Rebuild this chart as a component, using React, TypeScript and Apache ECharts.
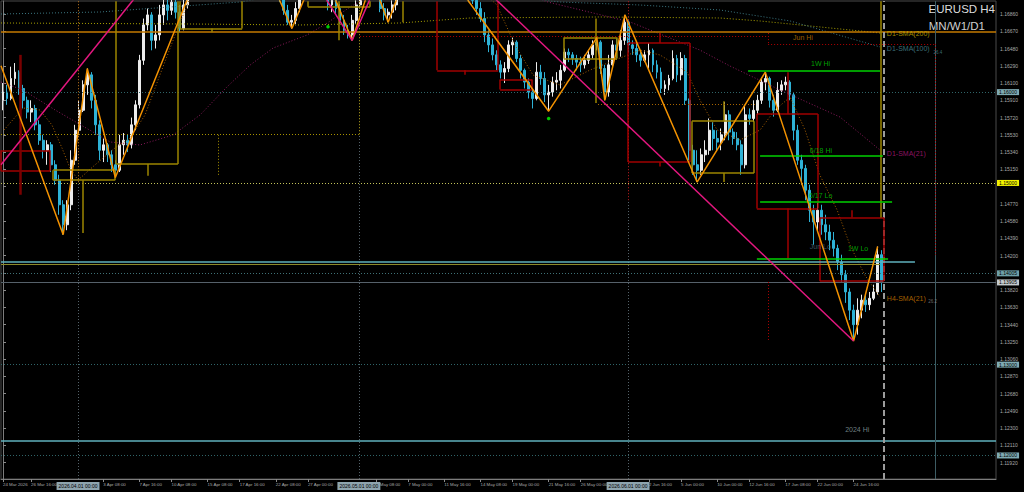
import React, { useEffect, useRef } from 'react';
import * as echarts from 'echarts';

// ---------- DATA ----------
// H4-ish candles: [open, close, low, high]
const CANDLES: number[][] = [
  [1.1591,1.1600,1.1580,1.1610],[1.1600,1.1593,1.1586,1.1608],[1.1593,1.1615,1.1591,1.1628],[1.1615,1.1622,1.1608,1.1632],
  [1.1622,1.1604,1.1597,1.1624],[1.1604,1.1591,1.1582,1.1608],[1.1591,1.1578,1.1571,1.1595],[1.1578,1.1582,1.1567,1.1591],
  [1.1582,1.1564,1.1558,1.1586],[1.1564,1.1547,1.1542,1.1569],[1.1547,1.1536,1.1527,1.1553],[1.1536,1.1542,1.1520,1.1547],
  [1.1542,1.1520,1.1512,1.1545],[1.1520,1.1503,1.1498,1.1525],[1.1503,1.1476,1.1465,1.1509],[1.1476,1.1454,1.1443,1.1481],
  [1.1454,1.1476,1.1448,1.1481],[1.1476,1.1525,1.1470,1.1536],[1.1525,1.1558,1.1520,1.1564],[1.1558,1.1580,1.1553,1.1591],
  [1.1580,1.1608,1.1578,1.1613],[1.1608,1.1619,1.1597,1.1626],[1.1619,1.1591,1.1582,1.1622],[1.1591,1.1564,1.1553,1.1597],
  [1.1564,1.1536,1.1525,1.1569],[1.1536,1.1542,1.1523,1.1549],[1.1542,1.1531,1.1523,1.1544],[1.1531,1.1520,1.1512,1.1536],
  [1.1520,1.1514,1.1506,1.1525],[1.1514,1.1542,1.1512,1.1553],[1.1542,1.1547,1.1531,1.1555],[1.1547,1.1542,1.1534,1.1553],
  [1.1542,1.1564,1.1538,1.1572],[1.1564,1.1586,1.1558,1.1591],[1.1586,1.1635,1.1582,1.1641],[1.1635,1.1674,1.1630,1.1681],
  [1.1674,1.1685,1.1668,1.1692],[1.1685,1.1657,1.1646,1.1688],[1.1657,1.1663,1.1648,1.1674],[1.1663,1.1685,1.1657,1.1696],
  [1.1685,1.1696,1.1674,1.1712],[1.1696,1.1690,1.1679,1.1712],[1.1690,1.1699,1.1685,1.1718],[1.1699,1.1688,1.1681,1.1712],
  [1.1688,1.1670,1.1666,1.1696],[1.1670,1.1696,1.1668,1.1707],[1.1696,1.1718,1.1692,1.1729],[1.1718,1.1734,1.1712,1.1743],
  [1.1734,1.1745,1.1729,1.1754],[1.1745,1.1762,1.1740,1.1767],[1.1762,1.1756,1.1751,1.1773],[1.1756,1.1776,1.1751,1.1784],
  [1.1776,1.1789,1.1769,1.1798],[1.1789,1.1784,1.1778,1.1800],[1.1784,1.1802,1.1778,1.1809],[1.1802,1.1811,1.1795,1.1818],
  [1.1811,1.1806,1.1798,1.1820],[1.1806,1.1817,1.1800,1.1823],[1.1817,1.1800,1.1795,1.1820],[1.1800,1.1789,1.1780,1.1806],
  [1.1789,1.1795,1.1784,1.1802],[1.1795,1.1778,1.1769,1.1798],[1.1778,1.1765,1.1758,1.1784],[1.1765,1.1769,1.1756,1.1776],
  [1.1769,1.1754,1.1745,1.1773],[1.1754,1.1740,1.1732,1.1758],[1.1740,1.1745,1.1734,1.1751],[1.1745,1.1729,1.1721,1.1747],
  [1.1729,1.1718,1.1710,1.1734],[1.1718,1.1707,1.1699,1.1723],[1.1707,1.1690,1.1685,1.1710],[1.1690,1.1677,1.1674,1.1696],
  [1.1677,1.1679,1.1670,1.1685],[1.1679,1.1692,1.1675,1.1699],[1.1692,1.1707,1.1688,1.1712],[1.1707,1.1718,1.1701,1.1723],
  [1.1718,1.1729,1.1712,1.1736],[1.1729,1.1734,1.1721,1.1740],[1.1734,1.1740,1.1729,1.1744],[1.1740,1.1734,1.1725,1.1744],
  [1.1734,1.1712,1.1707,1.1736],[1.1712,1.1696,1.1690,1.1718],[1.1696,1.1701,1.1688,1.1707],[1.1701,1.1692,1.1686,1.1705],
  [1.1692,1.1679,1.1675,1.1697],[1.1679,1.1668,1.1663,1.1685],[1.1668,1.1663,1.1659,1.1674],[1.1663,1.1679,1.1657,1.1685],
  [1.1679,1.1696,1.1675,1.1701],[1.1696,1.1712,1.1692,1.1718],[1.1712,1.1723,1.1707,1.1729],[1.1723,1.1718,1.1712,1.1729],
  [1.1718,1.1721,1.1712,1.1724],[1.1721,1.1707,1.1701,1.1723],[1.1707,1.1692,1.1688,1.1710],[1.1692,1.1685,1.1679,1.1698],
  [1.1685,1.1688,1.1677,1.1692],[1.1688,1.1696,1.1681,1.1701],[1.1696,1.1707,1.1690,1.1712],[1.1707,1.1723,1.1701,1.1729],
  [1.1723,1.1740,1.1718,1.1745],[1.1740,1.1751,1.1734,1.1756],[1.1751,1.1762,1.1745,1.1767],[1.1762,1.1767,1.1756,1.1773],
  [1.1767,1.1765,1.1756,1.1773],[1.1765,1.1756,1.1751,1.1769],[1.1756,1.1751,1.1745,1.1762],[1.1751,1.1743,1.1736,1.1756],
  [1.1743,1.1745,1.1734,1.1751],[1.1745,1.1734,1.1729,1.1749],[1.1734,1.1729,1.1721,1.1740],[1.1729,1.1723,1.1716,1.1734],
  [1.1723,1.1725,1.1714,1.1732],[1.1725,1.1718,1.1712,1.1730],[1.1718,1.1712,1.1707,1.1723],[1.1712,1.1710,1.1704,1.1718],
  [1.1710,1.1703,1.1699,1.1714],[1.1703,1.1701,1.1697,1.1708],[1.1701,1.1692,1.1685,1.1704],[1.1692,1.1681,1.1677,1.1699],
  [1.1681,1.1663,1.1655,1.1688],[1.1663,1.1652,1.1644,1.1668],[1.1652,1.1641,1.1635,1.1659],[1.1641,1.1630,1.1624,1.1646],
  [1.1630,1.1622,1.1615,1.1635],[1.1622,1.1626,1.1610,1.1633],[1.1626,1.1652,1.1622,1.1657],[1.1652,1.1655,1.1641,1.1660],
  [1.1655,1.1637,1.1633,1.1657],[1.1637,1.1624,1.1615,1.1641],[1.1624,1.1611,1.1604,1.1626],[1.1611,1.1600,1.1593,1.1615],
  [1.1600,1.1593,1.1582,1.1604],[1.1593,1.1622,1.1591,1.1633],[1.1622,1.1615,1.1608,1.1630],[1.1615,1.1597,1.1589,1.1622],
  [1.1597,1.1600,1.1579,1.1608],[1.1600,1.1611,1.1595,1.1617],[1.1611,1.1613,1.1602,1.1622],[1.1613,1.1624,1.1604,1.1630],
  [1.1624,1.1644,1.1622,1.1648],[1.1644,1.1641,1.1633,1.1648],[1.1641,1.1637,1.1630,1.1644],[1.1637,1.1633,1.1624,1.1641],
  [1.1633,1.1630,1.1622,1.1639],[1.1630,1.1635,1.1626,1.1641],[1.1635,1.1641,1.1631,1.1646],[1.1641,1.1652,1.1637,1.1657],
  [1.1652,1.1655,1.1646,1.1660],[1.1655,1.1626,1.1620,1.1657],[1.1626,1.1600,1.1591,1.1630],[1.1600,1.1630,1.1595,1.1641],
  [1.1630,1.1652,1.1626,1.1657],[1.1652,1.1646,1.1637,1.1659],[1.1646,1.1657,1.1639,1.1668],[1.1657,1.1677,1.1652,1.1685],
  [1.1677,1.1652,1.1644,1.1679],[1.1652,1.1648,1.1641,1.1657],[1.1648,1.1641,1.1633,1.1655],[1.1641,1.1635,1.1628,1.1646],
  [1.1635,1.1641,1.1633,1.1646],[1.1641,1.1646,1.1626,1.1654],[1.1646,1.1630,1.1622,1.1648],[1.1630,1.1622,1.1615,1.1635],
  [1.1622,1.1604,1.1599,1.1627],[1.1604,1.1608,1.1597,1.1613],[1.1608,1.1615,1.1602,1.1619],[1.1615,1.1637,1.1613,1.1646],
  [1.1637,1.1619,1.1611,1.1641],[1.1619,1.1637,1.1613,1.1644],[1.1637,1.1591,1.1586,1.1641],[1.1591,1.1536,1.1525,1.1593],
  [1.1536,1.1520,1.1509,1.1542],[1.1520,1.1514,1.1501,1.1536],[1.1514,1.1531,1.1509,1.1538],[1.1531,1.1536,1.1523,1.1547],
  [1.1536,1.1558,1.1531,1.1571],[1.1558,1.1549,1.1536,1.1567],[1.1549,1.1545,1.1536,1.1558],[1.1545,1.1553,1.1536,1.1560],
  [1.1553,1.1575,1.1547,1.1589],[1.1575,1.1556,1.1547,1.1580],[1.1556,1.1549,1.1542,1.1560],[1.1549,1.1542,1.1536,1.1556],
  [1.1542,1.1520,1.1509,1.1547],[1.1520,1.1575,1.1516,1.1586],[1.1575,1.1571,1.1564,1.1582],[1.1571,1.1580,1.1567,1.1591],
  [1.1580,1.1591,1.1575,1.1597],[1.1591,1.1611,1.1587,1.1615],[1.1611,1.1615,1.1602,1.1622],[1.1615,1.1591,1.1583,1.1617],
  [1.1591,1.1580,1.1573,1.1597],[1.1580,1.1602,1.1578,1.1611],[1.1602,1.1608,1.1597,1.1613],[1.1608,1.1611,1.1602,1.1617],
  [1.1611,1.1597,1.1591,1.1613],[1.1597,1.1558,1.1547,1.1600],[1.1558,1.1525,1.1520,1.1564],[1.1525,1.1516,1.1498,1.1531],
  [1.1516,1.1492,1.1481,1.1520],[1.1492,1.1470,1.1457,1.1498],[1.1470,1.1457,1.1432,1.1476],[1.1457,1.1470,1.1448,1.1478],
  [1.1470,1.1454,1.1443,1.1476],[1.1454,1.1446,1.1437,1.1465],[1.1446,1.1437,1.1426,1.1454],[1.1437,1.1428,1.1419,1.1446],
  [1.1428,1.1413,1.1404,1.1432],[1.1413,1.1399,1.1391,1.1421],[1.1399,1.1380,1.1368,1.1404],[1.1380,1.1360,1.1349,1.1384],
  [1.1360,1.1344,1.1326,1.1366],[1.1344,1.1360,1.1333,1.1373],[1.1360,1.1371,1.1351,1.1377],[1.1371,1.1366,1.1358,1.1378],
  [1.1366,1.1373,1.1360,1.1380],[1.1373,1.1380,1.1371,1.1388],[1.1380,1.1421,1.1377,1.1430],[1.1421,1.13905,1.1380,1.1426],
];

const SLOT_COUNT = 248; // bar slots incl. right shift space

const TIME_LABELS: [number, string][] = [
  [0, '24 Mar 2026'], [7, '26 Mar 16:00'], [25, '3 Apr 08:00'], [34, '7 Apr 16:00'], [42, '10 Apr 08:00'],
  [51, '15 Apr 08:00'], [59, '17 Apr 16:00'], [68, '22 Apr 08:00'], [76, '27 Apr 00:00'], [93, '5 May 08:00'],
  [101, '7 May 00:00'], [110, '11 May 16:00'], [119, '14 May 08:00'], [127, '19 May 00:00'], [136, '21 May 16:00'],
  [144, '26 May 00:00'], [161, '2 Jun 16:00'], [169, '5 Jun 00:00'], [178, '10 Jun 00:00'], [186, '12 Jun 16:00'],
  [195, '17 Jun 08:00'], [203, '22 Jun 00:00'], [212, '24 Jun 16:00'],
];

const PRICE_TICKS = [
  1.1192, 1.1211, 1.1230, 1.1249, 1.1268, 1.1287, 1.1306, 1.1325, 1.1344, 1.1363, 1.1382, 1.1401, 1.1420, 1.1439,
  1.1458, 1.1477, 1.1496, 1.1515, 1.1534, 1.1553, 1.1572, 1.1591, 1.1610, 1.1629, 1.1648, 1.1667, 1.1686,
];
// tick labels hidden in the reference behind the highlighted price boxes
const COVERED_TICKS = [1.1401, 1.1496];

const PERIOD_SEPARATORS: [number, string][] = [
  [18.7, '2026.04.01 00:00'], [88.7, '2026.05.01 00:00'], [155.8, '2026.06.01 00:00'],
];

const ZIGZAG: number[][] = [
  [-0.5, 1.1629], [15, 1.1443], [21, 1.1626], [28, 1.1506], [57, 1.1823], [72, 1.1670], [79, 1.1744],
  [87, 1.1657], [92, 1.1724], [96, 1.1677], [104, 1.1773], [136, 1.1579], [148, 1.1660], [150, 1.1591],
  [155, 1.1685], [173, 1.1501], [190, 1.1622], [212, 1.1326], [218, 1.1430],
];
const TREND_UP: number[][] = [[-0.5, 1.1520], [40, 1.1743]];
const TREND_DOWN: number[][] = [[120, 1.1714], [212, 1.1326]];
const TREND_V: number[][] = [[80, 1.1706], [87, 1.1657], [92, 1.1708]];

const D1_SMA200: number[][] = [
  [-0.5, 1.16761], [46.6, 1.16750], [74.0, 1.16739], [99.0, 1.16761], [116.4, 1.16816], [148.8, 1.16827],
  [178.7, 1.16816], [188.7, 1.16783], [218.6, 1.16651],
];
const D1_SMA100: number[][] = [
  [-0.5, 1.16860], [24.2, 1.16882], [59.1, 1.16992], [74.0, 1.17102], [99.0, 1.17124], [123.9, 1.17069],
  [138.8, 1.16992], [158.8, 1.16959], [178.7, 1.16904], [196.2, 1.16783], [218.6, 1.16497],
];
const D1_SMA21: number[][] = [
  [-0.5, 1.16111], [5.0, 1.16023], [13.0, 1.15803], [26.7, 1.15451], [34.1, 1.15418], [42.4, 1.15528],
  [49.1, 1.15748], [55.8, 1.16056], [61.6, 1.16298], [67.3, 1.16485], [75.8, 1.16629], [80.8, 1.16761],
  [86.5, 1.16937], [94.0, 1.17124], [111.4, 1.17234], [128.9, 1.17102], [135.8, 1.16992], [156.3, 1.16772],
  [173.7, 1.16463], [181.2, 1.16287], [193.7, 1.16023], [208.6, 1.15726], [218.6, 1.15362],
];
const H4_SMA21: number[][] = [
  [0.25, 1.15583], [5.0, 1.15825], [9.2, 1.15803], [12.2, 1.15638], [14.7, 1.15385], [16.7, 1.15164],
  [18.7, 1.15032], [22.9, 1.15198], [27.9, 1.15385], [31.7, 1.15495], [35.4, 1.15748], [39.1, 1.16188],
  [42.9, 1.16629], [45.4, 1.16904], [47.9, 1.17179], [56.6, 1.17785], [74.0, 1.17565], [89.0, 1.17344],
  [103.9, 1.17454], [116.4, 1.17234], [123.1, 1.16959], [127.6, 1.16519], [132.1, 1.16188], [138.8, 1.16078],
  [146.3, 1.16243], [151.3, 1.16331], [158.8, 1.16463], [163.8, 1.16408], [170.5, 1.16221], [173.7, 1.15913],
  [178.0, 1.15583], [183.7, 1.15473], [188.7, 1.15583], [192.4, 1.15803], [196.2, 1.15946], [199.9, 1.15583],
  [203.6, 1.15087], [207.9, 1.14702], [211.1, 1.14316], [214.8, 1.13986], [218.6, 1.13744],
];
const FRACTALS: number[][] = [[81, 1.1672], [136, 1.1571]];

// higher-timeframe boxes: [x1, top, x2, bottom]
const TOP = 1.1700;
const RED_BOXES: number[][] = [
  [-0.5, 1.1536, 11.7, 1.1513], [108.2, TOP, 123.4, 1.1624], [123.9, 1.1614, 131.9, 1.1603],
  [155.8, 1.1654, 171.2, 1.1523], [187.9, 1.1576, 203.1, 1.1472], [203.6, 1.1462, 219.6, 1.1392],
];
const RED_WICKS: number[][] = [
  [115.2, 1.1624, 1.1619], [163.8, 1.1665, 1.1654], [163.8, 1.1523, 1.1518],
  [195.7, 1.1622, 1.1576], [195.7, 1.1472, 1.1417], [211.6, 1.1470, 1.1462],
];
const RED_MAIN_WICK: number[] = [4.2, 1.1641, 1.1487];
const OLIVE_BOXES: number[][] = [
  [12.5, 1.1514, 27.9, 1.1503], [28.2, TOP, 43.6, 1.1521], [44.1, TOP, 59.6, 1.1670],
  [76.0, TOP, 91.5, 1.1694], [139.8, 1.1660, 153.0, 1.1637], [171.7, 1.1568, 187.2, 1.1511],
];
const OLIVE_WICKS: number[][] = [
  [19.9, 1.1503, 1.1445], [36.1, 1.1521, 1.1508], [52.1, 1.1670, 1.1666], [83.7, TOP, 1.1657],
  [99.7, TOP, 1.1677], [147.8, 1.1681, 1.1588], [179.7, 1.1590, 1.1568], [179.7, 1.1511, 1.1501],
  [218.8, TOP, 1.1462],
];

// levels
const JUN_HI = 1.1666;
const HI_2024 = 1.12166;
const CYAN_LEVEL = 1.14133;
const OLIVE_LEVEL = 1.14104;
const CURRENT_PRICE = 1.13905;
const SR_LEVEL = 1.14005;
const ROUND_LEVELS = [1.16, 1.13, 1.12];
const YELLOW_LEVEL = 1.15;
// green key levels: [x1, x2, price]
const KEY_LEVELS: number[][] = [
  [185.7, 218.6, 1.16232], [188.7, 219.3, 1.15296], [188.7, 221.6, 1.14790], [187.9, 220.6, 1.14170],
];

const ANNOTATIONS: { t: string; x: number; y: number; c: string; s?: number }[] = [
  { t: 'D1-SMA(200)', x: 220.3, y: 1.16640, c: '#c9b000' },
  { t: 'D1-SMA(100)', x: 220.3, y: 1.16484, c: '#4b8a94' },
  { t: '26.4', x: 231.9, y: 1.16440, c: '#4b8a94', s: 4.5 },
  { t: 'D1-SMA(21)', x: 220.3, y: 1.15329, c: '#b3187c' },
  { t: 'H4-SMA(21)', x: 220.3, y: 1.13733, c: '#d17a00' },
  { t: '26.2', x: 230.6, y: 1.13690, c: '#8a8a8a', s: 4.5 },
  { t: 'Jun Hi', x: 196.9, y: 1.16601, c: '#c47a00' },
  { t: '1W Hi', x: 201.4, y: 1.16320, c: '#00c800' },
  { t: '6/18 Hi', x: 201.1, y: 1.15362, c: '#00c800' },
  { t: '6/17 Lo', x: 200.9, y: 1.14867, c: '#00c800' },
  { t: '1W Lo', x: 210.6, y: 1.14273, c: '#00c800' },
  { t: 'Jun Lo', x: 201.1, y: 1.14295, c: '#4d6f80' },
  { t: '2024 Hi', x: 209.9, y: 1.12291, c: '#8fa0a6' },
];

// ---------- STYLE ----------
const FONT = 'Liberation Sans, Arial, sans-serif';
const BULL = '#ececec';
const BEAR = '#2eb2d6';
const RED = '#a00000';
const OLIVE = '#9c8600';
const GREEN = '#00d000';
const DOT: number[] = [1, 2];

function seg(x1: number, y1: number, x2: number, y2: number, color: string, width = 1, type: any = 'solid') {
  return [{ coord: [x1, y1], lineStyle: { color, width, type } }, { coord: [x2, y2] }];
}

function boxSegs(b: number[], color: string, width = 1.5) {
  const [x1, top, x2, bottom] = b;
  const out = [seg(x1, top, x1, bottom, color, width), seg(x2, top, x2, bottom, color, width), seg(x1, bottom, x2, bottom, color, width)];
  if (top < TOP) out.push(seg(x1, top, x2, top, color, width));
  return out;
}

function levelLabel(text: string, bg: string) {
  return {
    show: true, position: 'end', formatter: text, backgroundColor: bg, color: '#000',
    fontSize: 5, lineHeight: 6, fontFamily: FONT, padding: [0, 2, 0, 2], distance: 1,
  };
}

function lineSeries(data: number[][], color: string, width: number, type: any, z: number) {
  return {
    type: 'line', xAxisIndex: 1, yAxisIndex: 0, data, symbol: 'none', showSymbol: false, silent: true,
    lineStyle: { color, width, type }, z, animation: false,
  };
}

function buildOption(): any {
  const labelMap = new Map<number, string>(TIME_LABELS);
  const slots = Array.from({ length: SLOT_COUNT }, (_, i) => String(i));
  const priceLabels = PRICE_TICKS.filter((p) => !COVERED_TICKS.includes(p));

  const boxLines: any[] = [];
  RED_BOXES.forEach((b) => boxLines.push(...boxSegs(b, RED)));
  OLIVE_BOXES.forEach((b) => boxLines.push(...boxSegs(b, OLIVE)));
  RED_WICKS.forEach(([x, a, b]) => boxLines.push(seg(x, a, x, b, RED, 1.5)));
  OLIVE_WICKS.forEach(([x, a, b]) => boxLines.push(seg(x, a, x, b, OLIVE, 1.5)));
  boxLines.push(seg(RED_MAIN_WICK[0], RED_MAIN_WICK[1], RED_MAIN_WICK[0], RED_MAIN_WICK[2], '#7a0000', 2.5));
  // dotted partial structures
  boxLines.push(seg(-0.5, 1.1554, 88.7, 1.1554, '#a89200', 1, DOT));
  boxLines.push(seg(53.6, 1.1553, 53.6, 1.1507, '#a89200', 1, DOT));
  boxLines.push(seg(148.3, 1.1587, 187.9, 1.1587, '#a86400', 1, DOT));
  boxLines.push(seg(89, 1.1661, 190.7, 1.1661, '#b00000', 1, DOT));
  boxLines.push(seg(190.7, 1.1665, 190.7, 1.1653, '#b00000', 1, DOT));
  boxLines.push(seg(190.7, 1.1653, 232.3, 1.1653, '#b00000', 1, DOT));
  boxLines.push(seg(190.7, 1.1391, 190.7, 1.1327, '#b00000', 1, DOT));
  boxLines.push(seg(232.3, 1.1653, 232.3, 1.1421, '#b00000', 1, DOT));
  boxLines.push(seg(18.7, TOP, 18.7, 1.1500, '#b06000', 1, DOT));
  boxLines.push(seg(88.7, TOP, 88.7, 1.1553, '#a89200', 1, DOT));
  boxLines.push(seg(155.8, TOP, 155.8, 1.1481, '#b00000', 1, DOT));
  // partial solid levels
  boxLines.push(seg(-0.5, CYAN_LEVEL, 227.3, CYAN_LEVEL, '#5fb0bd', 1.5));
  boxLines.push(seg(-0.5, OLIVE_LEVEL, 218.6, OLIVE_LEVEL, '#8c8a2a', 1));

  const greenLines = KEY_LEVELS.map(([x1, x2, p]) => seg(x1, p, x2, p, GREEN, 1.5));

  const fullLevels: any[] = [
    { yAxis: JUN_HI, lineStyle: { color: '#c47a00', width: 1.5, type: 'solid' }, label: { show: false } },
    { yAxis: YELLOW_LEVEL, lineStyle: { color: '#c4c45a', width: 1, type: DOT }, label: levelLabel('1.15000', '#f2f200') },
    { yAxis: SR_LEVEL, lineStyle: { color: '#3f7176', width: 1, type: DOT }, label: levelLabel('1.14005', '#6d9fa8') },
    { yAxis: CURRENT_PRICE, lineStyle: { color: '#56616a', width: 1, type: 'solid' }, label: levelLabel('1.13905', '#c4cacd') },
    { yAxis: HI_2024, lineStyle: { color: '#5fb0bd', width: 1.5, type: 'solid' }, label: { show: false } },
    ...ROUND_LEVELS.map((p) => ({
      yAxis: p, lineStyle: { color: '#2f6468', width: 1, type: DOT }, label: levelLabel(p.toFixed(5), '#7eaab3'),
    })),
    ...PERIOD_SEPARATORS.map(([x, t]) => ({
      xAxis: x, lineStyle: { color: '#54626a', width: 1, type: DOT },
      label: {
        show: true, position: 'start', formatter: t, backgroundColor: '#8ea4ae', color: '#000',
        fontSize: 5, lineHeight: 6, fontFamily: FONT, padding: [1, 2, 1, 2], distance: 3,
      },
    })),
    { xAxis: 219.6, lineStyle: { color: '#9c9c9c', width: 2, type: [6, 3] }, label: { show: false } },
    { xAxis: 232.3, lineStyle: { color: '#3d5c63', width: 1, type: 'solid' }, label: { show: false } },
  ];

  return {
    animation: false,
    backgroundColor: '#000000',
    textStyle: { fontFamily: FONT },
    grid: {
      left: 1, top: 1, right: 28, bottom: 13, show: true, borderColor: '#4a4a4a', borderWidth: 1,
      containLabel: false, outerBoundsMode: 'none',
    },
    xAxis: [
      {
        type: 'category', data: slots, boundaryGap: true,
        axisLine: { show: true, lineStyle: { color: '#7c7c7c' } },
        axisTick: {
          show: true, alignWithLabel: true, length: 3, lineStyle: { color: '#8a8a8a' },
          interval: (i: number) => labelMap.has(i),
        },
        axisLabel: {
          show: true, interval: (i: number) => labelMap.has(i),
          formatter: (v: string) => labelMap.get(Number(v)) ?? '',
          align: 'left', color: '#a9a9a9', fontSize: 4.4, fontFamily: FONT, margin: 3,
        },
        splitLine: { show: false },
      },
      { type: 'value', min: -0.5, max: SLOT_COUNT - 0.5, show: false },
    ],
    yAxis: {
      type: 'value', position: 'right', min: 1.11741, max: 1.17003, scale: true,
      axisLine: { show: true, lineStyle: { color: '#7c7c7c' } },
      axisTick: { show: true, customValues: PRICE_TICKS, length: 3, lineStyle: { color: '#8a8a8a' } },
      axisLabel: {
        customValues: priceLabels, formatter: (v: number) => v.toFixed(5), color: '#a9a9a9',
        fontSize: 5, fontFamily: FONT, margin: 4,
      },
      splitLine: { show: false },
    },
    graphic: [
      { type: 'text', right: 29, top: 3, style: { text: 'EURUSD H4', fill: '#dcdcdc', font: '11.5px Liberation Sans' } },
      { type: 'text', right: 39, top: 19.5, style: { text: 'MN/W1/D1', fill: '#cfcfcf', font: '11.5px Liberation Sans' } },
    ],
    series: [
      {
        type: 'line', name: 'levels', xAxisIndex: 1, yAxisIndex: 0, data: [], clip: false, silent: true, z: 1,
        markLine: { silent: true, precision: 10, symbol: ['none', 'none'], animation: false, data: fullLevels },
      },
      {
        type: 'line', name: 'structures', xAxisIndex: 1, yAxisIndex: 0, data: [], clip: true, silent: true, z: 2,
        markLine: {
          silent: true, precision: 10, symbol: ['none', 'none'], animation: false, label: { show: false }, data: boxLines,
        },
      },
      {
        type: 'candlestick', name: 'EURUSD', xAxisIndex: 0, yAxisIndex: 0, data: CANDLES, barWidth: 2.4, z: 3,
        silent: true, clip: true,
        itemStyle: { color: BULL, color0: BEAR, borderColor: BULL, borderColor0: BEAR, borderWidth: 1 },
      },
      lineSeries(D1_SMA200, '#a8a000', 1, DOT, 4),
      lineSeries(D1_SMA100, '#3b7680', 1, DOT, 4),
      lineSeries(D1_SMA21, '#8b1a5c', 1, DOT, 4),
      lineSeries(H4_SMA21, '#a86000', 1, DOT, 4),
      lineSeries(ZIGZAG, '#f39200', 1.5, 'solid', 5),
      lineSeries(TREND_UP, '#e3177f', 1.5, 'solid', 5),
      lineSeries(TREND_DOWN, '#e3177f', 1.5, 'solid', 5),
      lineSeries(TREND_V, '#e3177f', 1.5, 'solid', 5),
      {
        type: 'line', name: 'keylevels', xAxisIndex: 1, yAxisIndex: 0, data: [], silent: true, z: 6,
        markLine: {
          silent: true, precision: 10, symbol: ['none', 'none'], animation: false, label: { show: false }, data: greenLines,
        },
      },
      {
        type: 'scatter', xAxisIndex: 1, yAxisIndex: 0, data: FRACTALS, symbolSize: 3.5, silent: true, z: 6,
        itemStyle: { color: '#00ff00' },
      },
      {
        type: 'scatter', xAxisIndex: 1, yAxisIndex: 0, symbolSize: 0, silent: true, z: 7, clip: false,
        data: ANNOTATIONS.map((a) => ({
          value: [a.x, a.y], name: a.t, label: { color: a.c, fontSize: a.s ?? 7 },
        })),
        label: { show: true, position: 'right', distance: 0, formatter: '{b}', fontFamily: FONT, fontSize: 7 },
      },
    ],
  };
}

export default function App() {
  const ref = useRef<HTMLDivElement>(null);
  useEffect(() => {
    document.body.style.margin = '0';
    document.body.style.background = '#000';
    const chart = echarts.init(ref.current as HTMLDivElement, null, { renderer: 'svg' });
    chart.setOption(buildOption());
    return () => chart.dispose();
  }, []);
  return <div ref={ref} style={{ width: 1024, height: 492, background: '#000' }} />;
}
